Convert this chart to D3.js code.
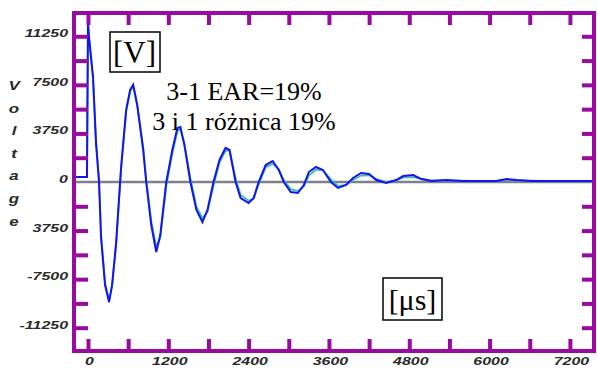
<!DOCTYPE html>
<html>
<head>
<meta charset="utf-8">
<script src="https://cdn.jsdelivr.net/npm/d3@7"></script>
<style>
  html, body { margin: 0; padding: 0; background: #fff; }
  svg { display: block; }
  .ticklab text { font-family: "Liberation Sans", Arial, sans-serif; font-style: italic; font-weight: bold; font-size: 11px; fill: #2a2a2a; }
</style>
</head>
<body>
<div id="chart"></div>
<script>
// time samples [µs] and traces [V]
const timeUs = [-195, -15, 0, 15, 75, 120, 165, 195, 255, 315, 360, 420, 480, 495, 570, 630, 675, 735, 825, 870,
  945, 1020, 1080, 1170, 1260, 1335, 1380, 1440, 1530, 1620, 1710, 1785, 1875, 1965, 2055, 2115, 2205, 2280, 2400, 2475,
  2550, 2655, 2760, 2850, 2925, 3030, 3135, 3225, 3300, 3405, 3510, 3630, 3735, 3855, 3960, 4080, 4200, 4305, 4455, 4605,
  4710, 4860, 4980, 5130, 5355, 5580, 5805, 6105, 6255, 6405, 6630, 6930, 7305, 7560];

const trace3 = [390, 390, 12370, 11210, 8120, 3010, 0, -4250, -7960, -9280, -7960, -4720, 0, 1160, 5570, 7110, 7500, 5950, 2470, 0,
  -3320, -5410, -4100, 0, 2470, 4170, 4250, 2860, 0, -2160, -3090, -2160, 0, 1700, 2630, 2470, 0, -1240, -1620, -1240,
  0, 1310, 1620, 930, 0, -770, -850, -230, 770, 1160, 930, 0, -460, -230, 310, 700, 620, 150, -80, 150,
  460, 540, 230, 80, 150, 80, 80, 80, 230, 150, 80, 80, 80, 80];

const trace1 = [390, 390, 12200, 11100, 8000, 3100, 100, -4100, -7800, -9100, -8000, -4900, -200, 1000, 5400, 7000, 7400, 6000, 2700, 200,
  -3000, -5000, -4300, -300, 2200, 3900, 4100, 3000, 300, -1900, -2800, -2300, -300, 1500, 2400, 2450, 300, -1000, -1450, -1300,
  -200, 1150, 1400, 1000, 150, -550, -700, -350, 500, 950, 900, 200, -300, -250, 150, 500, 520, 250, 0, 100,
  350, 380, 250, 120, 120, 100, 60, 100, 180, 120, 100, 60, 80, 80];

const xTicks = [0, 600, 1200, 1800, 2400, 3000, 3600, 4200, 4800, 5400, 6000, 6600, 7200];
const xLabelValues = [0, 1200, 2400, 3600, 4800, 6000, 7200];
const yTicks = [-11250, -9375, -7500, -5625, -3750, -1875, 1875, 3750, 5625, 7500, 9375, 11250];
const yLabelValues = [11250, 7500, 3750, 0, -3750, -7500, -11250];
const yTickLabels = ['11250', '7500', '3750', '0', '3750', '-7500', '-11250'];
const axisTitle = 'Voltage';

const W = 598, H = 370;
const frame = { left: 74, top: 13, right: 594, bottom: 351 };
const purple = '#990aa0';
const serif = '"Liberation Serif", "Times New Roman", "DejaVu Serif", serif';
const wide = 'scale(1.45,1)';

const x = d3.scaleLinear().domain([-209, 7560]).range([frame.left, frame.right]);
const y = d3.scaleLinear().domain([-13125, 13125]).range([352, 12]);

const svg = d3.select('#chart').append('svg')
  .attr('width', W)
  .attr('height', H);

// zero line
svg.append('line')
  .attr('x1', frame.left).attr('x2', frame.right)
  .attr('y1', y(0)).attr('y2', y(0))
  .attr('stroke', '#80808c')
  .attr('stroke-width', 2.5);

// traces
const line = d3.line()
  .x(d => x(d[0]))
  .y(d => y(d[1]));

svg.append('path')
  .datum(timeUs.map((t, i) => [t, trace1[i]]))
  .attr('d', line)
  .attr('fill', 'none')
  .attr('stroke', '#3cbf9c')
  .attr('stroke-width', 1.8);

svg.append('path')
  .datum(timeUs.map((t, i) => [t, trace3[i]]))
  .attr('d', line)
  .attr('fill', 'none')
  .attr('stroke', '#1414f0')
  .attr('stroke-width', 2);

// frame + inner ticks
const styleTicks = g => {
  g.select('.domain').remove();
  g.selectAll('.tick line').attr('stroke', purple).attr('stroke-width', 4);
};

svg.append('g')
  .attr('transform', `translate(${frame.left},0)`)
  .call(d3.axisRight(y).tickValues(yTicks).tickSize(14).tickFormat(''))
  .call(styleTicks);

svg.append('g')
  .attr('transform', `translate(${frame.right},0)`)
  .call(d3.axisLeft(y).tickValues(yTicks).tickSize(12).tickFormat(''))
  .call(styleTicks);

svg.append('g')
  .attr('transform', `translate(0,${frame.top})`)
  .call(d3.axisBottom(x).tickValues(xTicks).tickSize(12).tickFormat(''))
  .call(styleTicks);

svg.append('g')
  .attr('transform', `translate(0,${frame.bottom})`)
  .call(d3.axisTop(x).tickValues(xTicks).tickSize(12).tickFormat(''))
  .call(styleTicks);

svg.append('rect')
  .attr('x', frame.left).attr('y', frame.top)
  .attr('width', frame.right - frame.left)
  .attr('height', frame.bottom - frame.top)
  .attr('fill', 'none')
  .attr('stroke', purple)
  .attr('stroke-width', 4);

// tick labels (wide italic face of the original)
svg.append('g')
  .attr('class', 'ticklab')
  .attr('transform', 'translate(68,-3)')
  .call(d3.axisLeft(y).tickValues(yLabelValues).tickSize(0).tickPadding(0)
    .tickFormat((d, i) => yTickLabels[i]))
  .call(g => g.select('.domain').remove())
  .call(g => g.selectAll('text').attr('transform', wide));

svg.append('g')
  .attr('class', 'ticklab')
  .attr('transform', 'translate(1,357)')
  .call(d3.axisBottom(x).tickValues(xLabelValues).tickSize(0).tickPadding(0))
  .call(g => g.select('.domain').remove())
  .call(g => g.selectAll('text').text(d => d).attr('transform', wide));

// vertical "Voltage" title
svg.append('g')
  .attr('class', 'ticklab')
  .selectAll('text')
  .data(axisTitle.split(''))
  .join('text')
  .attr('transform', (d, i) => `translate(14,${90 + i * 22.6}) scale(1.3,1)`)
  .attr('text-anchor', 'middle')
  .style('font-size', '13px')
  .text(d => d);

// annotations
const boxLabel = (text, cx, baseline, box, size) => {
  svg.append('rect')
    .attr('x', box[0]).attr('y', box[1])
    .attr('width', box[2] - box[0]).attr('height', box[3] - box[1])
    .attr('fill', '#fff')
    .attr('stroke', '#000')
    .attr('stroke-width', 1.5);
  svg.append('text')
    .attr('x', cx).attr('y', baseline)
    .attr('text-anchor', 'middle')
    .attr('font-family', serif)
    .attr('font-size', size)
    .text(text);
};

boxLabel('[V]', 134.5, 63, [110, 32, 160, 72], 31);
boxLabel('[\u03bcs]', 412.5, 310, [383, 278, 442, 320], 30);

svg.append('text')
  .attr('x', 244).attr('y', 100)
  .attr('text-anchor', 'middle')
  .attr('font-family', serif)
  .attr('font-size', 26)
  .text('3-1 EAR=19%');

svg.append('text')
  .attr('x', 244).attr('y', 130)
  .attr('text-anchor', 'middle')
  .attr('font-family', serif)
  .attr('font-size', 26)
  .text('3 i 1 różnica 19%');
</script>
</body>
</html>
